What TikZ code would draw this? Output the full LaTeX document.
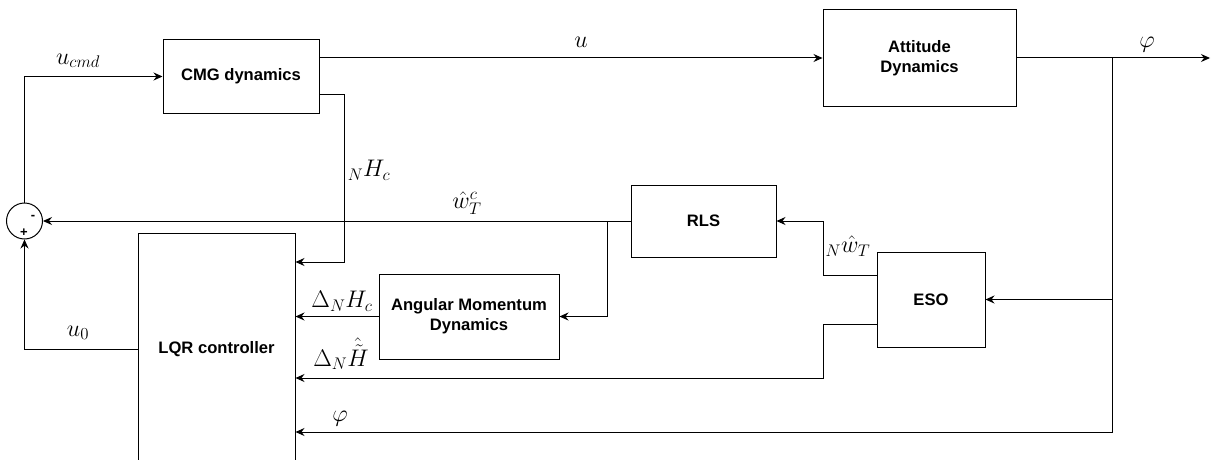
\RequirePackage{fix-cm}
\documentclass[tikz,border=0pt]{standalone}
\usepackage{fontspec}
\setmainfont{Liberation Sans}
\usetikzlibrary{arrows.meta,calc}
\begin{document}
\begin{tikzpicture}[x=1pt,y=-1pt,
  blk/.style={draw,line width=1pt,rectangle,inner sep=0pt,align=center,
    font=\fontsize{16.6}{20}\selectfont\bfseries},
  conn/.style={line width=1pt},
  arr/.style={line width=1pt,-{Stealth[length=9pt,width=8pt,inset=3pt]}},
  lbl/.style={font=\fontsize{24}{28}\selectfont,inner sep=0pt},
  sgn/.style={font=\fontsize{13}{15}\selectfont\bfseries,inner sep=0pt}]
\useasboundingbox (0,0) rectangle (1218,460);
\clip (0,0) rectangle (1218,460);
% blocks
\node[blk,minimum width=156pt,minimum height=73pt] (cmg) at (241,76.5) {CMG dynamics};
\node[blk,minimum width=193pt,minimum height=96pt] (att) at (919.5,58) {Attitude\\Dynamics};
\node[blk,minimum width=145pt,minimum height=72pt] (rls) at (703.5,221) {RLS};
\node[blk,minimum width=180pt,minimum height=85pt] (amd) at (469,316.5) {Angular Momentum\\Dynamics};
\node[blk,minimum width=157pt,minimum height=232pt] (lqr) at (216.5,349) {LQR controller};
\node[blk,minimum width=108pt,minimum height=95pt] (eso) at (931,299.5) {ESO};
\node[draw,circle,line width=1pt,minimum size=36pt,inner sep=0pt] (sum) at (24.5,221) {};
\node[sgn] (minus) at (33,217) {-};
\node[sgn] (plus) at (24,233) {+};
% coordinates
\coordinate (out) at (1210,58);
\coordinate (j) at (1112,58);
\coordinate (jb) at (1112,432);
\coordinate (br) at (607,221);
\coordinate (nh1) at (344,94);
\coordinate (nh2) at (344,262);
\coordinate (e1) at (823,275);
\coordinate (e2) at (823,324);
% connectors
\draw[arr] (sum.north) |- (cmg.west);
\draw[arr] (cmg.east |- att.west) -- (att.west);
\draw[conn] (cmg.east |- nh1) -- (nh1);
\draw[arr] (nh1) -- (nh2) -- (lqr.east |- nh2);
\draw[arr] (att.east) -- (out);
\draw[arr] (j) -- (jb) -- (lqr.east |- jb);
\draw[arr] (j |- eso.east) -- (eso.east);
\draw[arr] (eso.west |- e1) -- (e1) |- (rls.east);
\draw[arr] (eso.west |- e2) -- (e2) |- (lqr.east |- 0,378);
\draw[arr] (rls.west) -- (sum.east);
\draw[arr] (br) |- (amd.east);
\draw[arr] (amd.west) -- (lqr.east |- amd.west);
\draw[arr] (lqr.west) -| (sum.south);
% labels
\node[lbl] (lucmd) at (78,61) {$u_{cmd}$};
\node[lbl] (lu) at (581,42) {$u$};
\node[lbl] (lphi1) at (1147,45) {$\varphi$};
\node[lbl] (lnhc) at (369,170) {${}_N H_c$};
\node[lbl] (lwc) at (467,203) {$\hat{w}_T^c$};
\node[lbl] (lnw) at (848,246) {${}_N\hat{w}_T$};
\node[lbl] (ldh) at (342,301) {$\Delta_N H_c$};
\node[lbl] (ldht) at (341,354) {$\Delta_N \hat{\tilde{H}}$};
\node[lbl] (lphi2) at (340,419) {$\varphi$};
\node[lbl] (lu0) at (78,333) {$u_0$};
\end{tikzpicture}
\end{document}
